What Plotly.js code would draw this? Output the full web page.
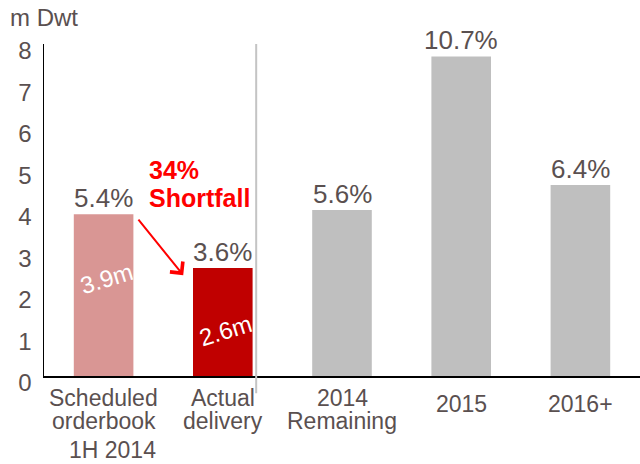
<!DOCTYPE html>
<html>
<head>
<meta charset="utf-8">
<script src="https://cdn.plot.ly/plotly-3.0.1.min.js"></script>
<style>html,body{margin:0;padding:0;background:#fff;}#chart{width:640px;height:464px;}</style>
</head>
<body>
<div id="chart"></div>
<script>
// ---- data ----
const categories = ["Scheduled orderbook", "Actual delivery", "2014 Remaining", "2015", "2016+"];
const categoryLines = [["Scheduled", "orderbook"], ["Actual", "delivery"], ["2014", "Remaining"], ["2015"], ["2016+"]];
const groupLabel = "1H 2014";
const values = [3.9, 2.6, 4.0, 7.7, 4.6];
const percentLabels = ["5.4%", "3.6%", "5.6%", "10.7%", "6.4%"];
const barColors = ["#d99694", "#c00000", "#bfbfbf", "#bfbfbf", "#bfbfbf"];
const yTicks = [0, 1, 2, 3, 4, 5, 6, 7, 8];
const unitLabel = "m Dwt";
const shortfallLines = ["34%", "Shortfall"];

const FONT = "Liberation Sans, Arial, sans-serif";
const TXT = "#5a5050";
const idx = categories.map((c, i) => i);

const trace = {
  type: "bar",
  x: idx,
  y: values,
  marker: {color: barColors, line: {width: 0}},
  hoverinfo: "skip"
};

const annotations = [];
// percentage labels above bars
percentLabels.forEach((p, i) => {
  annotations.push({
    x: idx[i], xref: "x", y: values[i], yref: "y", yshift: 16,
    text: p, showarrow: false, xanchor: "center", yanchor: "middle",
    font: {family: FONT, size: 26, color: TXT}
  });
});
// x category labels, line by line
categoryLines.forEach((lines, i) => {
  lines.forEach((ln, j) => {
    const single = lines.length === 1;
    annotations.push({
      x: idx[i], xref: "x", y: 0, yref: "y",
      text: ln, showarrow: false, xanchor: "center", yanchor: "middle",
      yshift: single ? -28 : -(22 + j * 23),
      font: {family: FONT, size: 23, color: TXT}
    });
  });
});
annotations.push({
  x: idx[0], xref: "x", y: 0, yref: "y", xshift: 9, yshift: -74,
  text: groupLabel, showarrow: false, xanchor: "center", yanchor: "middle",
  font: {family: FONT, size: 23, color: TXT}
});
// unit label
annotations.push({
  x: 0, xref: "paper", xshift: -36, y: 1, yref: "paper", yshift: 27,
  text: unitLabel, showarrow: false, xanchor: "left", yanchor: "middle",
  font: {family: FONT, size: 24, color: TXT}
});
// rotated in-bar labels
const inFrac = [0.6, 0.42];
[0, 1].forEach(i => {
  annotations.push({
    x: idx[i], xref: "x", xshift: 3, y: values[i] * inFrac[i], yref: "y",
    text: values[i].toFixed(1) + "m", showarrow: false, textangle: -17,
    xanchor: "center", yanchor: "middle",
    font: {family: FONT, size: 24, color: "#ffffff"}
  });
});
// shortfall text
shortfallLines.forEach((ln, j) => {
  annotations.push({
    x: 0, xref: "paper", xshift: 103, y: 0, yref: "y", yshift: 206 - j * 28,
    text: "<b>" + ln + "</b>", showarrow: false, xanchor: "left", yanchor: "middle",
    font: {family: FONT, size: 25, color: "#ff0000"}
  });
});
// arrow
annotations.push({
  x: 0.668, xref: "x", y: 2.43, yref: "y",
  ax: -46, ay: -57, text: "", showarrow: true,
  arrowhead: 4, arrowsize: 1.6, arrowwidth: 2, arrowcolor: "#ff0000"
});

const layout = {
  width: 640, height: 464,
  margin: {l: 44, r: 0, t: 44, b: 88, pad: 0},
  paper_bgcolor: "#ffffff", plot_bgcolor: "#ffffff",
  showlegend: false,
  bargap: 0.5,
  font: {family: FONT, color: TXT},
  xaxis: {
    type: "linear", range: [-0.5, 4.5], showticklabels: false, ticks: "",
    showline: true, linecolor: "#000000", linewidth: 1.5,
    showgrid: false, zeroline: false, fixedrange: true
  },
  yaxis: {
    range: [0, 8], tickvals: yTicks, ticktext: yTicks.map(String),
    ticks: "", showline: true, linecolor: "#000000", linewidth: 1.5,
    showgrid: false, zeroline: false,
    tickfont: {family: FONT, size: 24, color: TXT},
    ticklabelstandoff: 6, ticklabelshift: 7, fixedrange: true
  },
  shapes: [{
    type: "line", xref: "x", x0: 1.28, x1: 1.28,
    yref: "paper", y0: -0.052, y1: 1,
    line: {color: "#c4c4c4", width: 2}
  }],
  annotations: annotations
};

Plotly.newPlot("chart", [trace], layout, {staticPlot: true, displayModeBar: false});
</script>
</body>
</html>
